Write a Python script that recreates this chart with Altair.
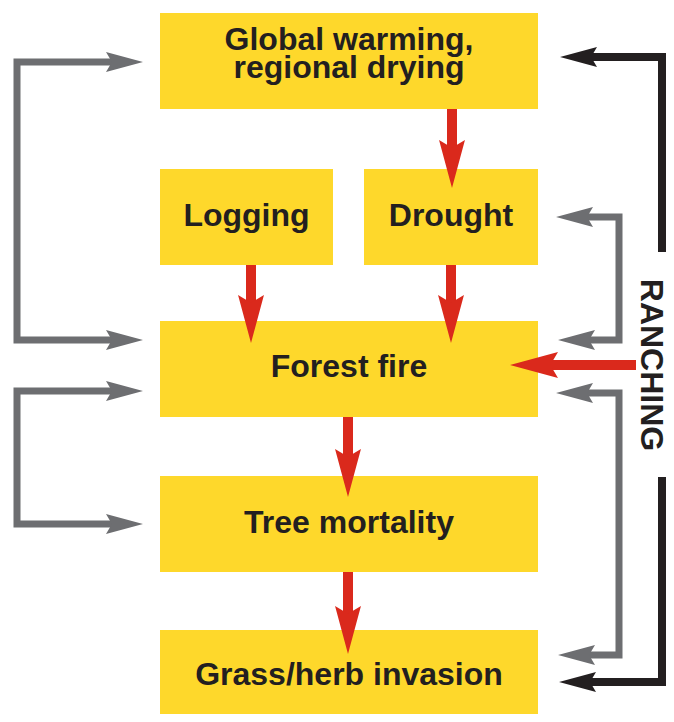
import math
import altair as alt
import pandas as pd

# ---------------- data ----------------
box_labels = ["Global warming,\nregional drying", "Logging", "Drought",
              "Forest fire", "Tree mortality", "Grass/herb invasion"]
box_x0 = [160, 160, 364, 160, 160, 160]
box_x1 = [538, 333, 538, 538, 538, 538]
box_y0 = [13, 169, 169, 321, 476, 630]
box_y1 = [109, 265, 265, 417, 572, 722]
label_baseline = [50, 226, 226, 377, 533, 685]

side_label = ["RANCHING"]
side_x = [651]
side_y = [365]

conn_kind = ["gray", "gray", "gray", "gray", "black", "black",
             "red", "red", "red", "red", "red", "red"]
conn_points = [
    [(143, 62), (17, 62), (17, 340), (143, 340)],
    [(143, 391), (17, 391), (17, 524), (143, 524)],
    [(556, 217), (619, 217), (619, 340), (558, 340)],
    [(556, 393), (619, 393), (619, 655), (558, 655)],
    [(662, 252), (662, 57), (560, 57)],
    [(662, 477), (662, 682), (559, 682)],
    [(452, 109), (452, 188)],
    [(251, 265), (251, 343)],
    [(451, 265), (451, 343)],
    [(348, 417), (348, 497)],
    [(348, 572), (348, 654)],
    [(636, 365), (510, 365)],
]
conn_start_arrow = [True, True, True, True, False, False,
                    False, False, False, False, False, False]
conn_end_arrow = [True] * 12

# ---------------- styling ----------------
YELLOW = "#FED82B"
RED = "#DA291C"
GRAY = "#6D6E71"
BLACK = "#231F20"
FONT = "Liberation Sans"
head_len = {"gray": 37, "black": 37, "red": 48}
line_w = {"gray": 7, "black": 8, "red": 10}
col = {"gray": GRAY, "black": BLACK, "red": RED}
ARROW = "M1,0 L-1,-0.54 L-0.68,0 L-1,0.54 Z"

W, H = 658, 706
xs = alt.Scale(domain=[8, 8 + W], nice=False, zero=False)
ys = alt.Scale(domain=[8, 8 + H], nice=False, zero=False, reverse=True)

# ---------------- build tables ----------------
boxes = pd.DataFrame({"x0": box_x0, "x1": box_x1, "y0": box_y0,
                      "y1": [min(v, 8 + H) for v in box_y1],
                      "label": box_labels,
                      "cx": [(a + b) / 2 for a, b in zip(box_x0, box_x1)],
                      "cy": label_baseline})

line_rows, head_rows = [], []


def unit(a, b):
    dx, dy = b[0] - a[0], b[1] - a[1]
    d = math.hypot(dx, dy)
    return dx / d, dy / d


def ang(u):
    a = math.degrees(math.atan2(u[1], u[0]))
    return a % 360


for i, (kind, pts) in enumerate(zip(conn_kind, conn_points)):
    L = head_len[kind]
    pts = [list(p) for p in pts]
    if conn_start_arrow[i]:
        u = unit(pts[1], pts[0])
        tip = pts[0]
        head_rows.append({"kind": kind, "x": tip[0] - u[0] * L / 2,
                          "y": tip[1] - u[1] * L / 2, "ang": ang(u)})
        pts[0] = [tip[0] - u[0] * L * 0.6, tip[1] - u[1] * L * 0.6]
    if conn_end_arrow[i]:
        u = unit(pts[-2], pts[-1])
        tip = pts[-1]
        head_rows.append({"kind": kind, "x": tip[0] - u[0] * L / 2,
                          "y": tip[1] - u[1] * L / 2, "ang": ang(u)})
        pts[-1] = [tip[0] - u[0] * L * 0.6, tip[1] - u[1] * L * 0.6]
    for j, p in enumerate(pts):
        line_rows.append({"cid": i, "kind": kind, "seq": j, "x": p[0], "y": p[1]})

lines = pd.DataFrame(line_rows)
heads = pd.DataFrame(head_rows)

# ---------------- layers ----------------
rects = alt.Chart(boxes).mark_rect(color=YELLOW).encode(
    x=alt.X("x0:Q", scale=xs, axis=None), x2="x1:Q",
    y=alt.Y("y0:Q", scale=ys, axis=None), y2="y1:Q")

labels = alt.Chart(boxes).mark_text(
    font=FONT, fontWeight="bold", fontSize=32, color=BLACK, lineHeight=28,
    lineBreak="\n", align="center", baseline="alphabetic").encode(
    x=alt.X("cx:Q", scale=xs, axis=None),
    y=alt.Y("cy:Q", scale=ys, axis=None), text="label:N")

layers = [rects, labels]
for kind in ["gray", "black", "red"]:
    ld = lines[lines.kind == kind]
    hd = heads[heads.kind == kind]
    layers.append(alt.Chart(ld).mark_line(
        color=col[kind], strokeWidth=line_w[kind], strokeJoin="miter",
        strokeCap="butt").encode(
        x=alt.X("x:Q", scale=xs, axis=None), y=alt.Y("y:Q", scale=ys, axis=None),
        detail="cid:N", order="seq:Q"))
    layers.append(alt.Chart(hd).mark_point(
        shape=ARROW, filled=True, opacity=1, color=col[kind], strokeWidth=0,
        size=head_len[kind] ** 2).encode(
        x=alt.X("x:Q", scale=xs, axis=None), y=alt.Y("y:Q", scale=ys, axis=None),
        angle=alt.Angle("ang:Q", scale=None)))

side = alt.Chart(pd.DataFrame({"x": side_x, "y": side_y, "t": side_label})).mark_text(
    font=FONT, fontWeight="bold", fontSize=32, color=BLACK, angle=90,
    align="center", baseline="middle", lineHeight=28).encode(
    x=alt.X("x:Q", scale=xs, axis=None), y=alt.Y("y:Q", scale=ys, axis=None), text="t:N")
layers.append(side)

chart = alt.layer(*layers).properties(
    width=W, height=H, padding=0,
    autosize=alt.AutoSizeParams(type="none")).configure_view(stroke=None)

chart.save("out.html", embed_options={"renderer": "svg", "actions": False})
